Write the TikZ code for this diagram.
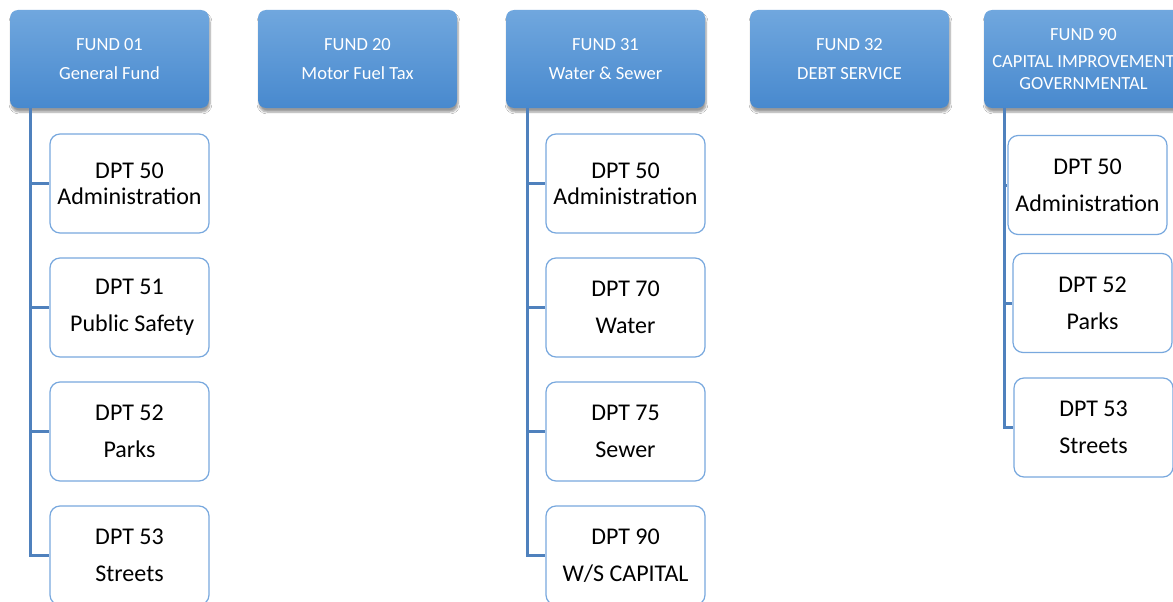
\documentclass[tikz,border=0pt]{standalone}
\usepackage{fontspec}
\setmainfont{Carlito}
\usetikzlibrary{shadows.blur}
\definecolor{fundtop}{RGB}{112,167,222}
\definecolor{fundbot}{RGB}{72,137,206}
\definecolor{deptline}{RGB}{120,168,222}
\definecolor{connc}{RGB}{79,129,189}
\tikzset{
 fund/.style={rounded corners=8pt, top color=fundtop, bottom color=fundbot, draw=none,
   minimum width=199pt, minimum height=98pt, inner sep=0pt, align=center, text=white,
   font=\fontsize{18.5}{29}\selectfont,
   blur shadow={shadow xshift=1pt, shadow yshift=-4pt, shadow blur steps=6, shadow opacity=40}},
 dept/.style={rounded corners=10pt, draw=deptline, line width=1.2pt, fill=white,
   minimum width=159pt, minimum height=99pt, inner sep=0pt, align=center,
   font=\fontsize{24}{37}\selectfont},
 connline/.style={draw=connc, line width=3pt}
}
\begin{document}
\begin{tikzpicture}[x=1pt,y=-1pt]
\useasboundingbox (0,0) rectangle (1173,602);
\clip (0,0) rectangle (1173,602);
\fill[white] (0,0) rectangle (1173,602);
% fund boxes
\node[fund] (f01) at (109.5,59) {FUND 01\\General Fund};
\node[fund] (f20) at (357.5,59) {FUND 20\\Motor Fuel Tax};
\node[fund] (f31) at (605.5,59) {FUND 31\\Water \& Sewer};
\node[fund] (f32) at (849.5,59) {FUND 32\\DEBT SERVICE};
\node[fund, font=\fontsize{18.5}{22}\selectfont] (f90) at (1083.5,59) {FUND 90\\[5pt]CAPITAL IMPROVEMENT\\GOVERNMENTAL};
% trunk coordinates
\coordinate (ta) at (30,108);
\coordinate (tb) at (527,108);
\coordinate (tc) at (1004,108);
% dept boxes
\node[dept] (a1) at (129.5,183.5) {DPT 50\\[-11pt]Administration};
\node[dept] (a2) at (129.5,307.5) {DPT 51\\\ Public Safety};
\node[dept] (a3) at (129.5,431.5) {DPT 52\\Parks};
\node[dept] (a4) at (129.5,555.5) {DPT 53\\Streets};
\node[dept] (b1) at (625.5,183.5) {DPT 50\\[-11pt]Administration};
\node[dept] (b2) at (625.5,307.5) {DPT 70\\Water};
\node[dept] (b3) at (625.5,431.5) {DPT 75\\Sewer};
\node[dept] (b4) at (625.5,555.5) {DPT 90\\W/S CAPITAL};
\node[dept] (c1) at (1087.5,185) {DPT 50\\Administration};
\node[dept] (c2) at (1092.5,303) {DPT 52\\Parks};
\node[dept] (c3) at (1093.5,427.5) {DPT 53\\Streets};
% connectors
\foreach \n in {a1,a2,a3,a4} \draw[connline] (ta) |- (\n.west);
\foreach \n in {b1,b2,b3,b4} \draw[connline] (tb) |- (\n.west);
\foreach \n in {c1,c2,c3} \draw[connline] (tc) |- (\n.west);
\end{tikzpicture}
\end{document}
